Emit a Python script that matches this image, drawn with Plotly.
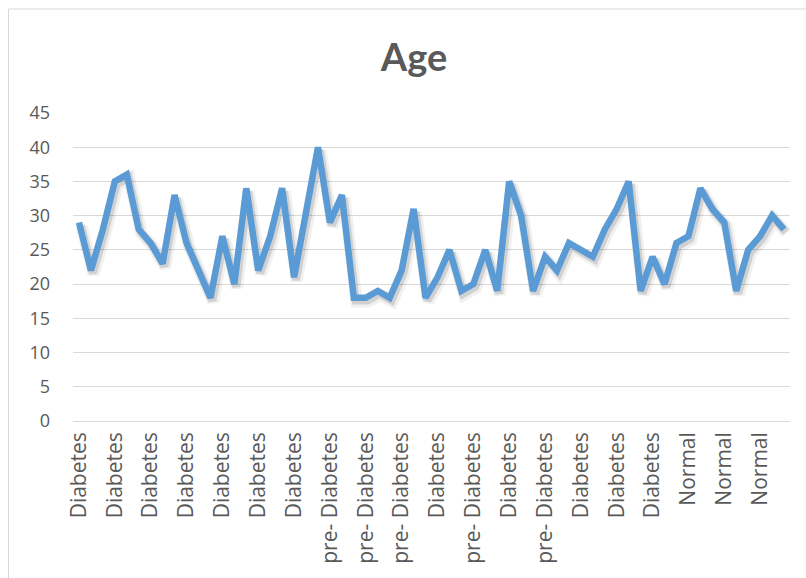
import plotly.graph_objects as go

# Age per record; every third record's status is shown on the axis
age = [29, 22, 28, 35, 36, 28, 26, 23, 33, 26,
       22, 18, 27, 20, 34, 22, 27, 34, 21, 30,
       40, 29, 33, 18, 18, 19, 18, 22, 31, 18,
       21, 25, 19, 20, 25, 19, 35, 30, 19, 24,
       22, 26, 25, 24, 28, 31, 35, 19, 24, 20,
       26, 27, 34, 31, 29, 19, 25, 27, 30, 28]

status_labels = ["Diabetes", "Diabetes", "Diabetes", "Diabetes", "Diabetes",
                 "Diabetes", "Diabetes", "pre- Diabetes", "pre- Diabetes",
                 "pre- Diabetes", "Diabetes", "pre- Diabetes", "Diabetes",
                 "pre- Diabetes", "Diabetes", "Diabetes", "Diabetes",
                 "Normal", "Normal", "Normal"]
label_step = 3

y_ticks = list(range(0, 50, 5))

W, H = 806, 578
ML, MR, MT, MB = 73, 16, 113, 157

x = list(range(len(age)))
tick_pos = x[::label_step][:len(status_labels)]

GREY_TEXT = "#595959"
GRID = "#d9d9d9"
BLUE = "#5b9bd5"
FONT = "Open Sans"

fig = go.Figure()

# soft drop shadow under the series line
for dx, dy, w, a in [(0.22, -0.55, 12, 0.06), (0.16, -0.4, 8, 0.13)]:
    fig.add_trace(go.Scatter(
        x=[v + dx for v in x], y=[v + dy for v in age], mode="lines",
        line=dict(color=f"rgba(0,0,0,{a})", width=w),
        hoverinfo="skip", showlegend=False))

fig.add_trace(go.Scatter(
    x=x, y=age, mode="lines", name="Age",
    line=dict(color=BLUE, width=6.5), showlegend=False))

plot_w = W - ML - MR
plot_h = H - MT - MB

# thin chart-area border
fig.add_shape(type="rect", xref="paper", yref="paper",
              x0=(8.5 - ML) / plot_w, x1=(W + 10 - ML) / plot_w,
              y0=-(MB + 10) / plot_h, y1=(H - 9 - MB) / plot_h,
              line=dict(color=GRID, width=1), fillcolor="rgba(0,0,0,0)",
              layer="below")

fig.update_layout(
    width=W, height=H,
    margin=dict(l=ML, r=MR, t=MT, b=MB),
    paper_bgcolor="white", plot_bgcolor="white",
    title=dict(text="<b>Age</b>", x=414 / W, xref="container", xanchor="center",
               y=1 - 58 / H, yref="container", yanchor="middle",
               font=dict(family="Lato", size=38, color=GREY_TEXT)),
    xaxis=dict(range=[-0.5, len(age) - 0.5], tickmode="array",
               tickvals=tick_pos, ticktext=status_labels, tickangle=-90,
               showgrid=False, zeroline=False, showline=False, ticks="",
               ticklabelstandoff=6, automargin=False,
               tickfont=dict(family=FONT, size=21, color=GREY_TEXT)),
    yaxis=dict(range=[0, 45], tickmode="array", tickvals=y_ticks,
               showgrid=True, gridcolor=GRID, gridwidth=1,
               zeroline=True, zerolinecolor=GRID, zerolinewidth=1,
               showline=False, ticks="", ticklabelstandoff=22,
               automargin=False,
               tickfont=dict(family=FONT, size=18, color=GREY_TEXT)),
)

fig.write_html("out.html")
